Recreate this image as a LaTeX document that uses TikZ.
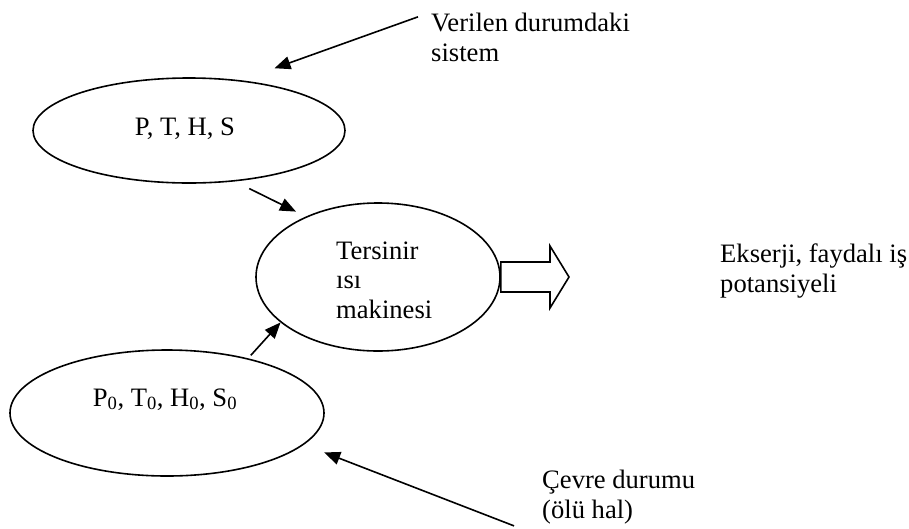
\documentclass[tikz,border=0pt]{standalone}
\usepackage{fontspec}
\setmainfont{Liberation Serif}
\usetikzlibrary{shapes.geometric, arrows.meta}

\begin{document}
\begin{tikzpicture}[x=1pt, y=-1pt] % pixel-like units, y grows downwards
		% Styles
		\tikzset{
			oval/.style={draw, ellipse, line width=1.6pt, inner sep=0pt},
			txt/.style={inner sep=0pt, align=left, font=\fontsize{26.6}{29.5}\selectfont},
			arrow/.style={-{Triangle[length=16pt, width=13pt]}, line width=1.6pt}
		}
		\useasboundingbox (0,0) rectangle (909,528);
		
		% Upper ellipse: system in the given state
		\node[oval, minimum width=312pt, minimum height=105pt] (Sys) at (189,130.5) {};
		\node[txt, anchor=base] (SysVal) at (185,135) {P, T, H, S};
		
		% Middle ellipse: reversible heat engine (base = last line)
		\node[oval, minimum width=244pt, minimum height=148pt] (Engine) at (378,277) {};
		\node[txt, anchor=base west] (EngineTxt) at (336,318) {Tersinir\\ısı\\makinesi};
		
		% Lower ellipse: dead state
		\node[oval, minimum width=314pt, minimum height=126pt] (Dead) at (167,413) {};
		\node[txt, anchor=base] (DeadVal) at (165,406) {P\textsubscript{0}, T\textsubscript{0}, H\textsubscript{0}, S\textsubscript{0}};
		
		% Side texts (base = last line)
		\node[txt, anchor=base west] (Given) at (431,61) {Verilen durumdaki\\sistem};
		\node[txt, anchor=base west] (Exergy) at (720,292) {Ekserji, faydalı iş\\potansiyeli};
		\node[txt, anchor=base west] (Env) at (542,518) {Çevre durumu\\(ölü hal)};
		
		% Arrow 1: Given -> Sys
		\draw[arrow, shorten >=35.5pt] ([shift={(-13,4)}]Given.north west) -- (Sys.44.5);
		
		% Arrow 2: Sys -> Engine
		\draw[arrow, shorten <=16pt, shorten >=11pt] (Sys.312) -- (Engine.140);
		
		% Arrow 3: Dead -> Engine
		\draw[arrow, shorten <=4pt] (Dead.34.4) -- (Engine.205);
		
		% Arrow 4: Env -> Dead
		\draw[arrow, shorten >=21.6pt] ([shift={(-28,2)}]Env.south west) -- (Dead.-13.5);
		
		% Hollow block arrow: Engine -> Exergy
		\draw[line width=1.6pt] (Engine.east |- 0,262) -- (550,262) -- (550,246) -- (569,277)
			-- (550,308) -- (550,292) -- (Engine.east |- 0,292) -- cycle;
		
	\end{tikzpicture}
\end{document}
